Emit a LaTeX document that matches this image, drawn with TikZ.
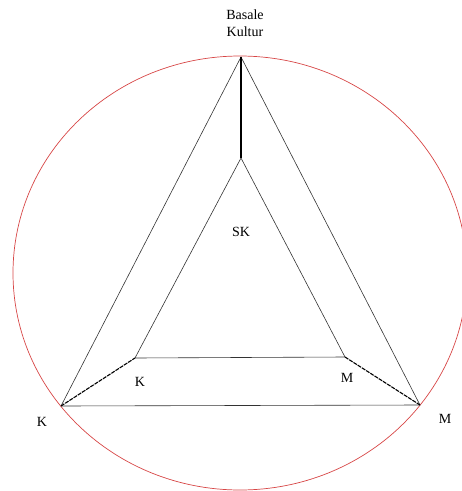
\documentclass[tikz,border=0pt]{standalone}
\usepackage{fontspec}
\setmainfont{Liberation Serif}
\definecolor{ringred}{RGB}{215,70,70}
\begin{document}
\begin{tikzpicture}[x = {(1pt,0pt)},
  y = {(0pt,-1pt)},
  lbl/.style={font=\fontsize{14}{16.5}\selectfont, inner sep=0pt},
  edge/.style={draw=black!80, line width=0.6pt}]

  \useasboundingbox (0,0) rectangle (462,491);

  % circle
  \begin{scope}
  \clip (0,0) rectangle (462,491);
  \draw[color=ringred, line width=0.7pt] (240,273) ellipse (227 and 217);
  \end{scope}

  % outer corners
  \coordinate (oT) at (241,57);
  \coordinate (oK) at (61,406);
  \coordinate (oM) at (420,405);

  % inner corners
  \coordinate (iT) at (241,158);
  \coordinate (iK) at (135,358);
  \coordinate (iM) at (345,357);

  % triangles
  \draw[edge] (oT) -- (oK) -- (oM) -- cycle;
  \draw[edge] (iT) -- (iK) -- (iM) -- cycle;

  % links
  \draw[line width=1.2pt] (oT) -- (iT);
  \draw[line width=1.1pt, dashed, dash pattern=on 4pt off 1pt] (oK) -- (iK);
  \draw[line width=1.1pt, dashed, dash pattern=on 4pt off 1pt] (oM) -- (iM);

  % labels
  \node[lbl, align=center] (basal) at (245,23) {Basale\\Kultur};
  \node[lbl] (sk) at (241,232) {SK};
  \node[lbl] (kout) at (42,422) {K};
  \node[lbl] (mout) at (445,419) {M};
  \node[lbl] (kin) at (140,382) {K};
  \node[lbl] (min) at (347,378) {M};
\end{tikzpicture}
\end{document}
